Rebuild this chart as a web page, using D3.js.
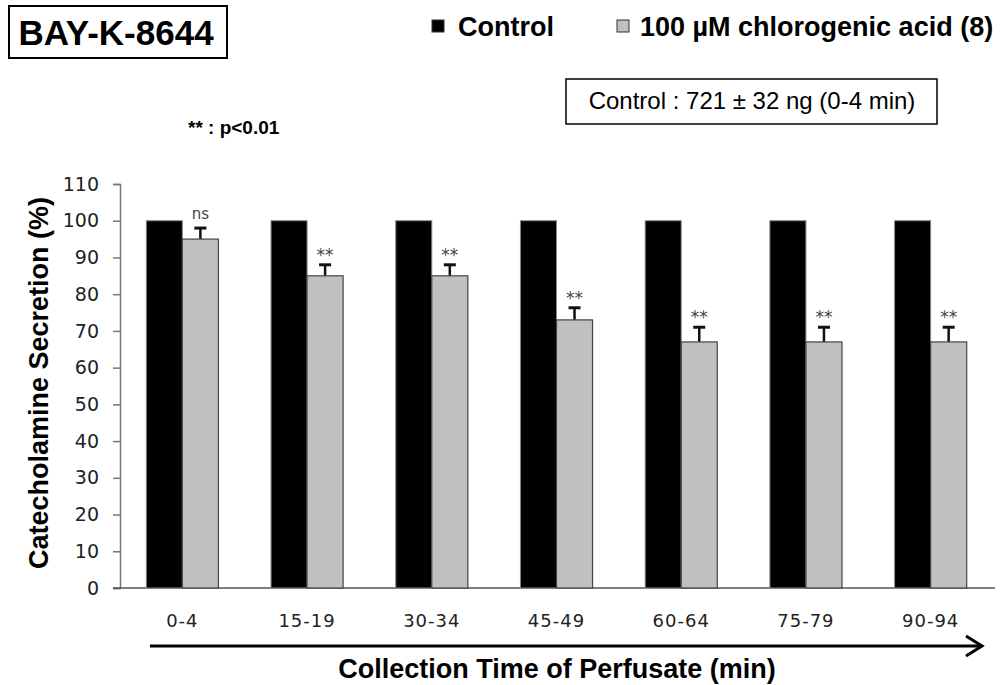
<!DOCTYPE html>
<html>
<head>
<meta charset="utf-8">
<script src="https://cdn.jsdelivr.net/npm/d3@7"></script>
<style>
  body { margin: 0; background: #fff; }
  svg { display: block; }
</style>
</head>
<body>
<div id="chart"></div>
<script>
// data
const periods = ["0-4", "15-19", "30-34", "45-49", "60-64", "75-79", "90-94"]
const controlValues = [100, 100, 100, 100, 100, 100, 100]
const acidValues = [95, 85, 85, 73, 67, 67, 67]
const acidErrors = [3, 3, 3, 3.3, 4, 4, 4]
const marks = ["ns", "**", "**", "**", "**", "**", "**"]
const yTicks = [0, 10, 20, 30, 40, 50, 60, 70, 80, 90, 100, 110]

const width = 1007
const height = 685
const margin = { left: 120, right: 14, top: 184, bottom: 97 }

const svg = d3.select("#chart")
  .append("svg")
    .attr("width", width)
    .attr("height", height)

const x = d3.scaleBand()
  .domain(periods)
  .range([margin.left, width - margin.right])
  .paddingInner(0.422)
  .paddingOuter(0.211)

const xSub = d3.scaleBand()
  .domain(["control", "acid"])
  .range([0, x.bandwidth()])

const y = d3.scaleLinear()
  .domain([0, 110])
  .range([height - margin.bottom, margin.top])

// y axis
const yAxis = svg.append("g")
  .attr("transform", `translate(${margin.left},0)`)
  .call(d3.axisLeft(y).tickValues(yTicks).tickSize(7).tickPadding(14))
yAxis.select(".domain").attr("stroke", "#777").attr("stroke-width", 1.5)
yAxis.selectAll(".tick line").attr("stroke", "#777").attr("stroke-width", 1.5)
yAxis.selectAll("text")
  .style("font-family", "DejaVu Sans")
  .style("font-size", "19px")
  .attr("fill", "#222")

// x axis
const xAxis = svg.append("g")
  .attr("transform", `translate(0,${y(0)})`)
  .call(d3.axisBottom(x).tickSize(0).tickPadding(26))
xAxis.select(".domain").attr("d", `M113,0H995`).attr("stroke", "#555").attr("stroke-width", 1.5)
xAxis.selectAll("text")
  .style("font-family", "DejaVu Sans")
  .style("font-size", "18px")
  .style("letter-spacing", "1px")
  .attr("fill", "#222")

// bars
const groups = svg.append("g")
  .selectAll("g")
  .data(periods)
  .join("g")
    .attr("transform", d => `translate(${x(d)},0)`)

groups.append("rect")
  .attr("x", xSub("control"))
  .attr("width", xSub.bandwidth())
  .attr("y", (d, i) => y(controlValues[i]))
  .attr("height", (d, i) => y(0) - y(controlValues[i]))
  .attr("fill", "#000")
  .attr("stroke", "#888")
  .attr("stroke-width", 1)

// error bars (drawn before the gray bar so the stem starts at the bar top)
groups.append("line")
  .attr("x1", xSub("acid") + xSub.bandwidth() / 2)
  .attr("x2", xSub("acid") + xSub.bandwidth() / 2)
  .attr("y1", (d, i) => y(acidValues[i]))
  .attr("y2", (d, i) => y(acidValues[i] + acidErrors[i]))
  .attr("stroke", "#111")
  .attr("stroke-width", 2.5)
groups.append("line")
  .attr("x1", xSub("acid") + xSub.bandwidth() / 2 - 6)
  .attr("x2", xSub("acid") + xSub.bandwidth() / 2 + 6)
  .attr("y1", (d, i) => y(acidValues[i] + acidErrors[i]))
  .attr("y2", (d, i) => y(acidValues[i] + acidErrors[i]))
  .attr("stroke", "#111")
  .attr("stroke-width", 3)

groups.append("rect")
  .attr("x", xSub("acid"))
  .attr("width", xSub.bandwidth())
  .attr("y", (d, i) => y(acidValues[i]))
  .attr("height", (d, i) => y(0) - y(acidValues[i]))
  .attr("fill", "#c0c0c0")
  .attr("stroke", "#444")
  .attr("stroke-width", 1.2)

// significance marks
groups.append("text")
  .attr("x", xSub("acid") + xSub.bandwidth() / 2)
  .attr("y", (d, i) => y(acidValues[i] + acidErrors[i]) - (marks[i] === "ns" ? 9 : 4))
  .attr("text-anchor", "middle")
  .style("font-family", "DejaVu Sans")
  .style("font-size", (d, i) => marks[i] === "ns" ? "15px" : "17px")
  .attr("fill", "#444")
  .text((d, i) => marks[i])

// arrow under x labels
svg.append("line")
  .attr("x1", 150).attr("x2", 981)
  .attr("y1", 646).attr("y2", 646)
  .attr("stroke", "#000")
  .attr("stroke-width", 3)
svg.append("path")
  .attr("d", "M966,636L982,646L966,656")
  .attr("fill", "none")
  .attr("stroke", "#000")
  .attr("stroke-width", 3)

// axis titles
svg.append("text")
  .attr("x", 557)
  .attr("y", 678)
  .attr("text-anchor", "middle")
  .style("font-family", "Liberation Sans")
  .style("font-weight", "bold")
  .style("font-size", "27px")
  .text("Collection Time of Perfusate (min)")

svg.append("text")
  .attr("transform", "translate(48,383) rotate(-90)")
  .attr("text-anchor", "middle")
  .style("font-family", "Liberation Sans")
  .style("font-weight", "bold")
  .style("font-size", "27px")
  .text("Catecholamine Secretion (%)")

// title box
svg.append("rect")
  .attr("x", 9).attr("y", 6)
  .attr("width", 218).attr("height", 52)
  .attr("fill", "none")
  .attr("stroke", "#000")
  .attr("stroke-width", 2)
svg.append("text")
  .attr("x", 116).attr("y", 45)
  .attr("text-anchor", "middle")
  .style("font-family", "Liberation Sans")
  .style("font-weight", "bold")
  .style("font-size", "35px")
  .text("BAY-K-8644")

// legend
const legendData = [
  { label: "Control", fill: "#000", x: 432, tx: 458 },
  { label: "100 µM chlorogenic acid (8)", fill: "#c0c0c0", x: 617, tx: 640 }
]
const legend = svg.append("g")
legend.selectAll("rect")
  .data(legendData)
  .join("rect")
    .attr("x", d => d.x).attr("y", 20)
    .attr("width", 12).attr("height", 12)
    .attr("fill", d => d.fill)
    .attr("stroke", "#333")
    .attr("stroke-width", 1)
legend.selectAll("text")
  .data(legendData)
  .join("text")
    .attr("x", d => d.tx).attr("y", 36)
    .style("font-family", "Liberation Sans")
    .style("font-weight", "bold")
    .style("font-size", "27px")
    .text(d => d.label)

// p-value note
svg.append("text")
  .attr("x", 188).attr("y", 134)
  .style("font-family", "Liberation Sans")
  .style("font-weight", "bold")
  .style("font-size", "19px")
  .text("** : p<0.01")

// control value box
svg.append("rect")
  .attr("x", 566).attr("y", 79)
  .attr("width", 371).attr("height", 45)
  .attr("fill", "none")
  .attr("stroke", "#000")
  .attr("stroke-width", 1.5)
svg.append("text")
  .attr("x", 752).attr("y", 109)
  .attr("text-anchor", "middle")
  .style("font-family", "Liberation Sans")
  .style("font-size", "24px")
  .text("Control : 721 ± 32 ng (0-4 min)")
</script>
</body>
</html>
